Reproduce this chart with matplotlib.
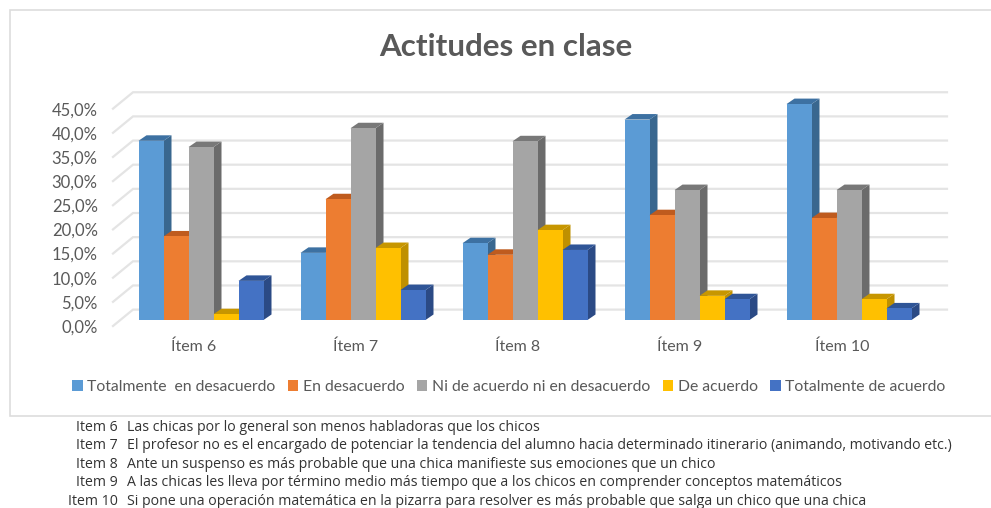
import matplotlib
matplotlib.use('Agg')
import matplotlib.pyplot as plt
from matplotlib.patches import Patch, Polygon, Rectangle

categories = ["Ítem 6", "Ítem 7", "Ítem 8", "Ítem 9", "Ítem 10"]
series_names = ["Totalmente  en desacuerdo", "En desacuerdo", "Ni de acuerdo ni en desacuerdo",
                "De acuerdo", "Totalmente de acuerdo"]
totalmente_desacuerdo = [37.1, 13.9, 15.9, 41.5, 44.7]
en_desacuerdo = [17.3, 25.0, 13.5, 21.7, 21.1]
ni_ni = [35.8, 39.7, 37.0, 26.9, 26.9]
de_acuerdo = [1.2, 14.9, 18.6, 5.0, 4.3]
totalmente_acuerdo = [8.1, 6.2, 14.5, 4.3, 2.4]
y_ticks = [0, 5, 10, 15, 20, 25, 30, 35, 40, 45]
notes_id = ["Item 6", "Item 7", "Item 8", "Item 9", "Item 10"]
notes = [
    "Las chicas por lo general son menos habladoras que los chicos",
    "El profesor no es el encargado de potenciar la tendencia del alumno hacia determinado itinerario (animando, motivando etc.)",
    "Ante un suspenso es más probable que una chica manifieste sus emociones que un chico",
    "A las chicas les lleva por término medio más tiempo que a los chicos en comprender conceptos matemáticos",
    "Si pone una operación matemática en la pizarra para resolver es más probable que salga un chico que una chica",
]

W, H = 991, 508
plt.rcParams['font.family'] = 'Lato'

front_colors = ['#5B9BD5', '#ED7D31', '#A5A5A5', '#FFC000', '#4472C4']
side_colors = ['#39678F', '#B5581C', '#6B6B6B', '#BF9000', '#2B4A85']
top_colors = ['#3D71A2', '#BF5B1E', '#787878', '#C79600', '#2F5597']

# pixel scales of the picture
PX_X = 162.0      # px per category
PX_Y = 4.83       # px per percent
LEFT, RIGHT = 113, 947
BOTTOM, TOP = 326, 91

fig = plt.figure(figsize=(W / 100, H / 100), dpi=100)
fig.patches.append(Rectangle((9.5 / W, 1 - 416 / H), 990 / W, 406 / H, transform=fig.transFigure,
                             fc='white', ec='#DDDDDD', lw=1.2, zorder=-1))
ax = fig.add_axes([LEFT / W, 1 - BOTTOM / H, (RIGHT - LEFT) / W, (BOTTOM - TOP) / H])
ax.patch.set_alpha(0)
ax.set_xlim((LEFT - 201) / PX_X, (RIGHT - 201) / PX_X)
ax.set_ylim(0, (BOTTOM - TOP) / PX_Y)
for s in ax.spines.values():
    s.set_visible(False)

# walls
wall_dx = 20 / PX_X
wall_dy = 16.4 / PX_Y
x0 = ax.get_xlim()[0]
x1 = ax.get_xlim()[1]
for v in y_ticks:
    ax.plot([x0, x0 + wall_dx, x1], [v, v + wall_dy, v + wall_dy], color='#E4E4E4', lw=1.6,
            clip_on=False, zorder=1, solid_joinstyle='miter')

# bars, left to right so that each one covers the side of the previous one
all_series = [totalmente_desacuerdo, en_desacuerdo, ni_ni, de_acuerdo, totalmente_acuerdo]
bar_w = 25 / PX_X
base = 6 / PX_Y
depth_x = 8 / PX_X
depth_y = 5.5 / PX_Y
z = 2
for c in range(len(categories)):
    for s, vals in enumerate(all_series):
        left = c + (s - 2.5) * bar_w
        top = base + vals[c]
        right = left + bar_w
        ax.add_patch(Polygon([[right, base], [right + depth_x, base + depth_y],
                              [right + depth_x, top + depth_y], [right, top]],
                             fc=side_colors[s], ec='none', zorder=z, clip_on=False))
        ax.add_patch(Polygon([[left, top], [right, top], [right + depth_x, top + depth_y],
                              [left + depth_x, top + depth_y]],
                             fc=top_colors[s], ec='none', zorder=z, clip_on=False))
        ax.bar(left, vals[c], bar_w, bottom=base, align='edge', color=front_colors[s], zorder=z + 0.5,
               clip_on=False)
        z += 1

ax.set_yticks(y_ticks)
ax.set_yticklabels([f"{v:.1f}%".replace('.', ',') for v in y_ticks], fontsize=12, color='#595959')
ax.set_xticks([c - 7 / PX_X for c in range(len(categories))])
ax.set_xticklabels(categories, fontsize=11.5, color='#595959')
ax.tick_params(axis='y', length=0, pad=11)
ax.tick_params(axis='x', length=0, pad=10)

fig.text(506 / W, 1 - 47 / H, "Actitudes en clase", ha='center', va='center', fontsize=22.6,
         fontweight='bold', color='#595959')

handles = [Patch(fc=c, ec='none') for c in front_colors]
fig.legend(handles, series_names, ncol=5, loc='center', bbox_to_anchor=(509 / W, 1 - 387 / H), frameon=False,
           fontsize=11.3, labelcolor='#595959', handlelength=0.65, handleheight=0.7, handletextpad=0.3,
           columnspacing=0.8)

for i, (nid, note) in enumerate(zip(notes_id, notes)):
    y = 1 - (427.3 + i * 18.45) / H
    fig.text(118 / W, y, nid, ha='right', va='center', fontsize=10.2, color='#333333', family='Open Sans')
    fig.text(126.7 / W, y, note, ha='left', va='center', fontsize=10.2, color='#333333', family='Open Sans')

fig.savefig('out.png', dpi=100)
